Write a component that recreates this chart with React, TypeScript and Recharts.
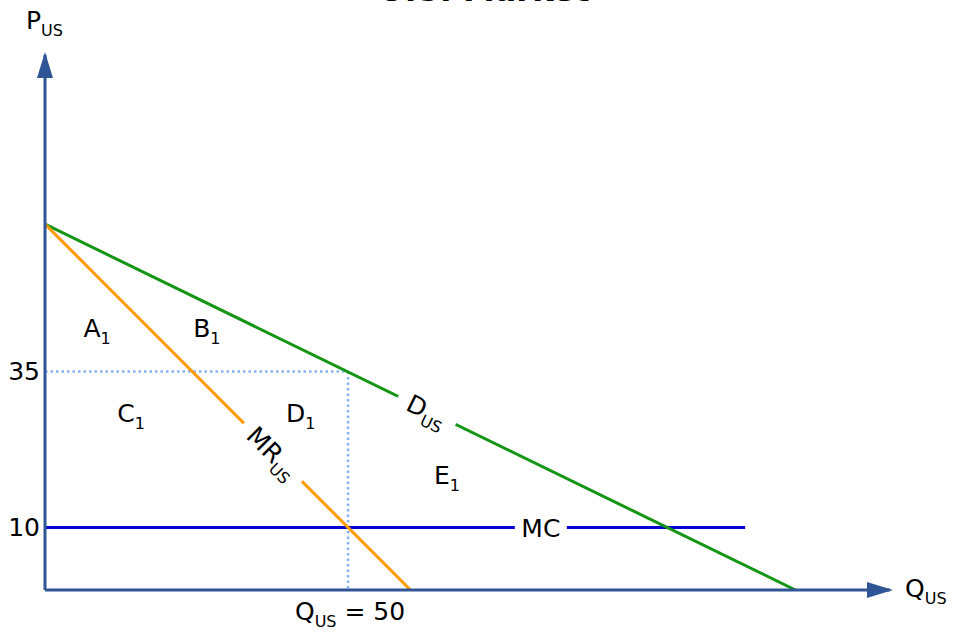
import React from "react";
import { LineChart, Line, XAxis, YAxis, ReferenceDot } from "recharts";

// demand, marginal revenue and marginal cost (Q, P)
const demandQ = [0, 123.8];
const demandP = [58.6, 0];
const mrQ = [0, 60.3];
const mrP = [58.6, 0];
const mcQ = [0, 115.5];
const mcP = [10, 10];

// profit-max point
const optQ = 50;
const optP = 35;

const xTicks = [50];
const yTicks = [10, 35];

// area labels A1..E1
const regionNames = ["A", "B", "C", "D", "E"];
const regionQ = [8.6, 26.7, 14.2, 42.2, 66.3];
const regionP = [40.5, 40.5, 26.9, 26.9, 17.0];

const X_MAX = 139.4;
const Y_MAX = 85.7;

const FONT = "'DejaVu Sans', Verdana, sans-serif";
const AXIS = "#2f5597";
const GREEN = "#149614";
const ORANGE = "#ff9a00";
const BLUE = "#0000d0";
const DOTTED = "#86b2f4";

const toRows = (qs: number[], ps: number[]) => qs.map((q, i) => ({ q, p: ps[i] }));

const demand = toRows(demandQ, demandP);
const mr = toRows(mrQ, mrP);
const mc = toRows(mcQ, mcP);
const guideH = toRows([0, optQ], [optP, optP]);
const guideV = toRows([optQ, optQ], [optP, 0]);
const regions = regionNames.map((name, i) => ({ name, q: regionQ[i], p: regionP[i] }));

const demandAt = (q: number) => demandP[0] * (1 - q / demandQ[1]);
const mrAt = (q: number) => mrP[0] * (1 - q / mrQ[1]);

function SubText({ x, y, main, sub, rest, anchor = "middle" }: any) {
  return (
    <text x={x} y={y} fontFamily={FONT} fontSize={25} fill="#000" textAnchor={anchor}>
      {main}
      <tspan fontSize={16} dy={7}>
        {sub}
      </tspan>
      {rest ? (
        <tspan fontSize={25} dy={-7}>
          {rest}
        </tspan>
      ) : null}
    </text>
  );
}

// text sitting in a gap cut out of a line
function GapLabel({ cx, cy, angle, gap, main, sub }: any) {
  if (cx == null || cy == null) return <g />;
  return (
    <g transform={`rotate(${angle} ${cx} ${cy})`}>
      <rect x={cx - gap / 2} y={cy - 13} width={gap} height={26} fill="#fff" />
      <SubText x={cx} y={cy + 9} main={main} sub={sub} />
    </g>
  );
}

function XTick({ x, y, payload }: any) {
  return <SubText x={x + 2} y={y + 30} main="Q" sub="US" rest={` = ${payload.value}`} />;
}

export default function App() {
  const demandQLabel = 63;
  const mrQLabel = 37.6;
  const mcQLabel = 81.8;

  return (
    <div style={{ position: "absolute", left: 0, top: 0, width: 958, height: 637, background: "#fff" }}>
      <LineChart
        width={958}
        height={637}
        margin={{ top: 55, right: 68, left: 8, bottom: 17 }}
      >
        <defs>
          <marker
            id="axisArrow"
            markerUnits="userSpaceOnUse"
            markerWidth={28}
            markerHeight={18}
            viewBox="0 0 28 18"
            refX={23}
            refY={9}
            orient="auto-start-reverse"
          >
            <path d="M0,1 L26,9 L0,17 z" fill={AXIS} />
          </marker>
        </defs>
        <text
          x={484}
          y={1}
          textAnchor="middle"
          fontFamily={FONT}
          fontWeight="bold"
          fontSize={32}
          fill="#000"
        >
          U.S. Market
        </text>
        <XAxis
          type="number"
          dataKey="q"
          domain={[0, X_MAX]}
          ticks={xTicks}
          allowDataOverflow
          height={30}
          tickLine={false}
          tickSize={0}
          tickMargin={0}
          tick={<XTick />}
          axisLine={{ stroke: AXIS, strokeWidth: 3, markerEnd: "url(#axisArrow)" }}
        />
        <YAxis
          type="number"
          dataKey="p"
          domain={[0, Y_MAX]}
          ticks={yTicks}
          allowDataOverflow
          width={37}
          tickLine={false}
          tickSize={0}
          tickMargin={5}
          tick={{ fontSize: 25, fill: "#000", fontFamily: FONT }}
          axisLine={{ stroke: AXIS, strokeWidth: 3, markerStart: "url(#axisArrow)" }}
        />
        <Line data={guideH} dataKey="p" stroke={DOTTED} strokeWidth={2.5} strokeDasharray="2.5 3" dot={false} isAnimationActive={false} />
        <Line data={guideV} dataKey="p" stroke={DOTTED} strokeWidth={2.5} strokeDasharray="2.5 3" dot={false} isAnimationActive={false} />
        <Line data={mc} dataKey="p" stroke={BLUE} strokeWidth={3} dot={false} isAnimationActive={false} />
        <Line data={demand} dataKey="p" stroke={GREEN} strokeWidth={3} dot={false} isAnimationActive={false} />
        <Line data={mr} dataKey="p" stroke={ORANGE} strokeWidth={3} dot={false} isAnimationActive={false} />

        <ReferenceDot
          x={demandQLabel}
          y={demandAt(demandQLabel)}
          ifOverflow="visible"
          shape={(props: any) => <GapLabel {...props} angle={26} gap={64} main="D" sub="US" />}
        />
        <ReferenceDot
          x={mrQLabel}
          y={mrAt(mrQLabel)}
          ifOverflow="visible"
          shape={(props: any) => <GapLabel {...props} angle={45} gap={82} main="MR" sub="US" />}
        />
        <ReferenceDot
          x={mcQLabel}
          y={mcP[0]}
          ifOverflow="visible"
          shape={(props: any) => (
            <GapLabel {...props} angle={0} gap={52} main="MC" sub="" />
          )}
        />
        {regions.map((r) => (
          <ReferenceDot
            key={r.name}
            x={r.q}
            y={r.p}
            ifOverflow="visible"
            shape={(props: any) => <SubText x={props.cx} y={props.cy} main={r.name} sub="1" />}
          />
        ))}
        <ReferenceDot
          x={0}
          y={Y_MAX}
          ifOverflow="visible"
          shape={(props: any) => <SubText x={props.cx - 19} y={props.cy - 26} main="P" sub="US" anchor="start" />}
        />
        <ReferenceDot
          x={X_MAX}
          y={0}
          ifOverflow="visible"
          shape={(props: any) => <SubText x={props.cx + 15} y={props.cy + 7} main="Q" sub="US" anchor="start" />}
        />
      </LineChart>
    </div>
  );
}
